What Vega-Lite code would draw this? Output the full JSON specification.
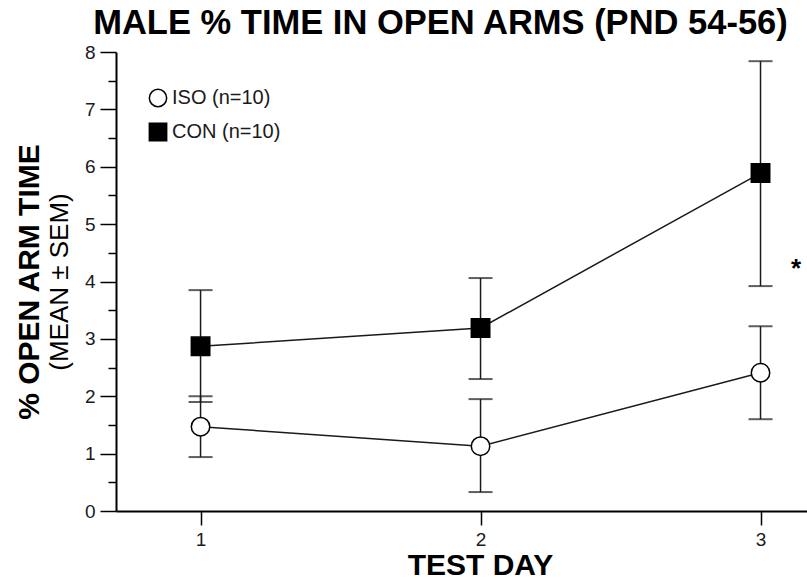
{
  "$schema": "https://vega.github.io/schema/vega-lite/v6.json",
  "width": 691,
  "height": 459,
  "autosize": "none",
  "padding": {"left": 116, "top": 52, "right": 0, "bottom": 68},
  "background": "white",
  "config": {
    "view": {"stroke": null},
    "font": "Liberation Sans",
    "axis": {"grid": false, "domainColor": "black", "tickColor": "black", "labelColor": "#1a1a1a", "titleColor": "black", "labelFontSize": 19},
    "legend": {"symbolStrokeWidth": 1.5, "labelFontSize": 20, "labelColor": "#1a1a1a"}
  },
  "title": {
    "text": "MALE % TIME IN OPEN ARMS (PND 54-56)",
    "font": "Liberation Sans",
    "fontSize": 34.5,
    "fontWeight": "bold",
    "color": "black",
    "anchor": "middle",
    "dx": -21,
    "offset": 2
  },
  "datasets": {
    "stats": [
      {"group": "ISO (n=10)", "day": 1, "mean": 1.47, "lo": 0.94, "hi": 2.0},
      {"group": "ISO (n=10)", "day": 2, "mean": 1.13, "lo": 0.33, "hi": 1.95},
      {"group": "ISO (n=10)", "day": 3, "mean": 2.41, "lo": 1.6, "hi": 3.22},
      {"group": "CON (n=10)", "day": 1, "mean": 2.87, "lo": 1.9, "hi": 3.85},
      {"group": "CON (n=10)", "day": 2, "mean": 3.19, "lo": 2.3, "hi": 4.06},
      {"group": "CON (n=10)", "day": 3, "mean": 5.89, "lo": 3.92, "hi": 7.84}
    ],
    "notes": [
      {"day": 3.127, "mean": 4.08, "label": "*"}
    ]
  },
  "encoding": {
    "x": {
      "field": "day",
      "type": "quantitative",
      "scale": {"domain": [0.698, 3.166], "nice": false, "zero": false},
      "axis": {
        "values": [1, 2, 3],
        "format": "d",
        "tickSize": 14,
        "tickWidth": 1.5,
        "domainWidth": 2,
        "labelFontSize": 19,
        "labelPadding": 5,
        "title": "TEST DAY",
        "titleFontSize": 30,
        "titleFontWeight": "bold",
        "titlePadding": 1,
        "titleX": 364
      }
    }
  },
  "layer": [
    {
      "layer": [
        {
          "data": {"name": "stats"},
          "mark": {"type": "line", "color": "#1a1a1a", "strokeWidth": 1.5},
          "encoding": {
            "y": {
              "field": "mean",
              "type": "quantitative",
              "title": "% OPEN ARM TIME",
              "scale": {"domain": [0, 8], "nice": false},
              "axis": {
                "values": [0, 1, 2, 3, 4, 5, 6, 7, 8],
                "format": "d",
                "tickSize": 16,
                "tickWidth": 1.5,
                "domainWidth": 2,
                "labelFontSize": 19,
                "labelPadding": 5,
                "titleFontSize": 30,
                "titleFontWeight": "bold",
                "titlePadding": 40
              }
            },
            "detail": {"field": "group"}
          }
        },
        {
          "data": {"name": "stats"},
          "mark": {"type": "errorbar", "color": "#1a1a1a", "thickness": 1.5, "ticks": {"size": 24, "thickness": 2}},
          "encoding": {
            "y": {"field": "lo", "type": "quantitative", "title": "% OPEN ARM TIME"},
            "y2": {"field": "hi"}
          }
        },
        {
          "data": {"name": "stats"},
          "mark": {"type": "point", "filled": true, "strokeWidth": 1.5, "opacity": 1, "size": 340},
          "encoding": {
            "y": {"field": "mean", "type": "quantitative", "title": "% OPEN ARM TIME"},
            "shape": {
              "field": "group",
              "type": "nominal",
              "scale": {"domain": ["ISO (n=10)", "CON (n=10)"], "range": ["circle", "square"]},
              "legend": {
                "orient": "none",
                "legendX": 32,
                "legendY": 36,
                "title": null,
                "labelOffset": 4,
                "symbolSize": 300,
                "rowPadding": 10
              }
            },
            "fill": {
              "field": "group",
              "type": "nominal",
              "scale": {"domain": ["ISO (n=10)", "CON (n=10)"], "range": ["white", "black"]},
              "legend": {
                "orient": "none",
                "legendX": 32,
                "legendY": 36,
                "title": null
              }
            },
            "stroke": {
              "field": "group",
              "type": "nominal",
              "scale": {"domain": ["ISO (n=10)", "CON (n=10)"], "range": ["black", "black"]},
              "legend": {
                "orient": "none",
                "legendX": 32,
                "legendY": 36,
                "title": null
              }
            }
          }
        },
        {
          "data": {"name": "notes"},
          "mark": {"type": "text", "fontSize": 26, "fontWeight": "bold", "font": "Liberation Sans", "color": "black", "baseline": "alphabetic", "align": "center"},
          "encoding": {
            "y": {"field": "mean", "type": "quantitative", "title": "% OPEN ARM TIME"},
            "text": {"field": "label"}
          }
        }
      ]
    },
    {
      "data": {"name": "stats"},
      "mark": {"type": "point", "opacity": 0},
      "encoding": {
        "y": {
          "field": "mean",
          "type": "quantitative",
          "scale": {"domain": [0, 8], "nice": false},
          "axis": {
            "orient": "left",
            "values": [0.5, 1.5, 2.5, 3.5, 4.5, 5.5, 6.5, 7.5],
            "tickSize": 8,
            "tickWidth": 1.5,
            "labels": false,
            "domain": false,
            "title": "(MEAN ± SEM)",
            "titleFontSize": 26,
            "titleFontWeight": "normal",
            "titlePadding": 35
          }
        }
      }
    }
  ],
  "resolve": {"axis": {"y": "independent"}}
}
